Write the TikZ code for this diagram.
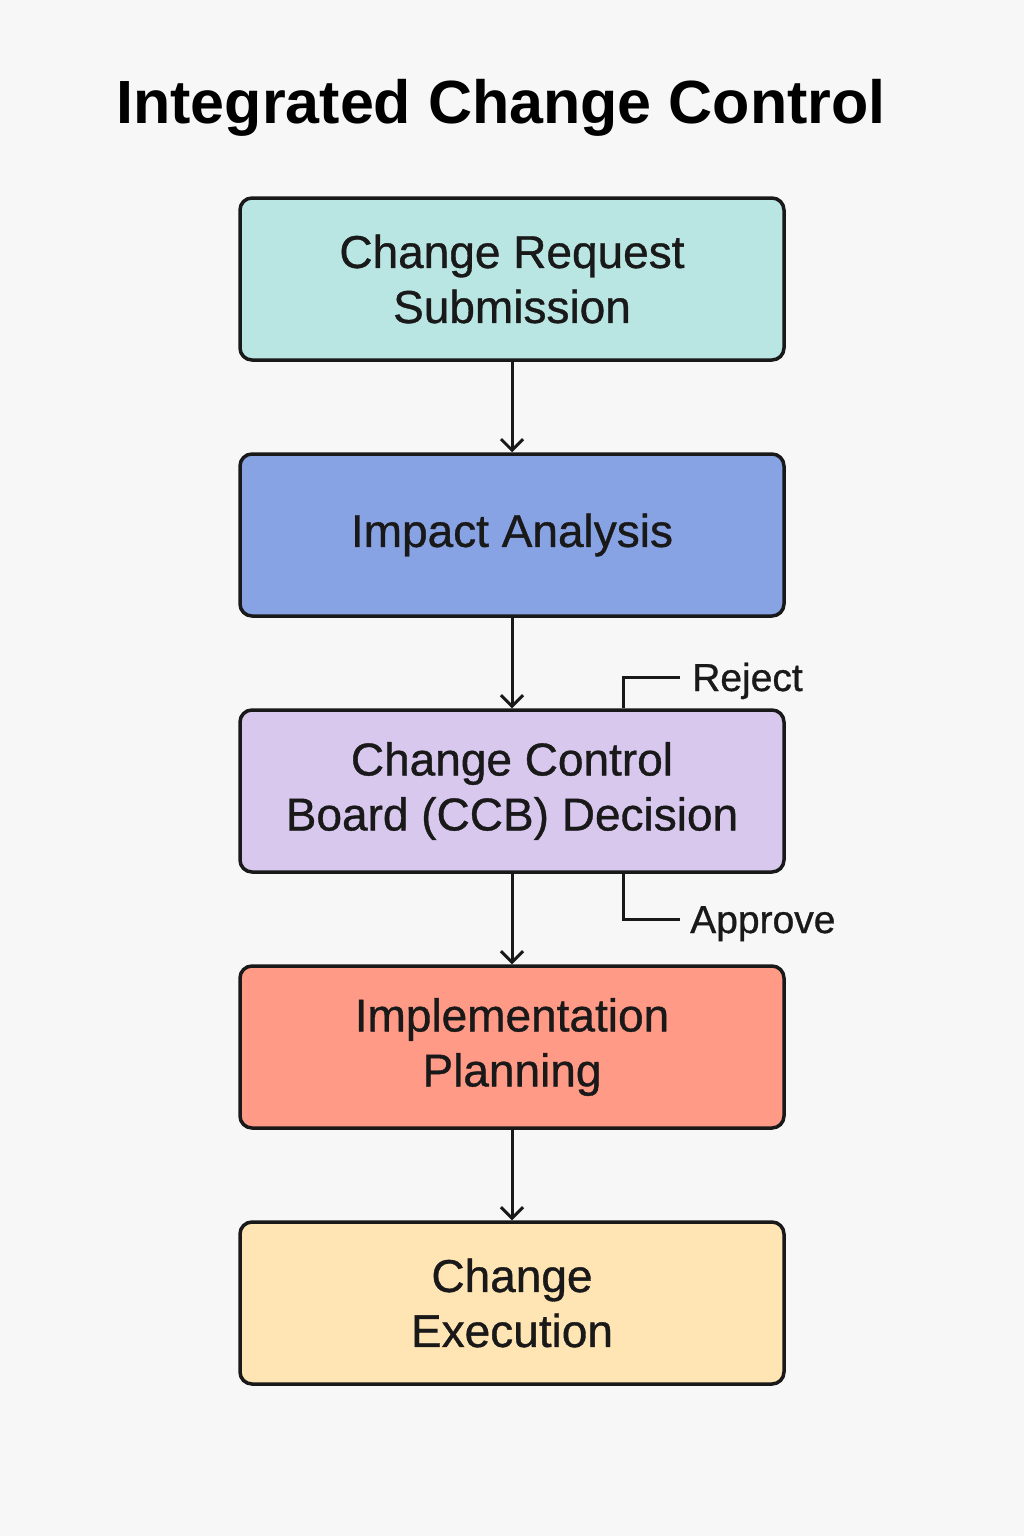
\documentclass[tikz,border=0pt]{standalone}
\usepackage{fontspec}
\setmainfont[FakeBold=0.8]{Liberation Sans}
\newfontfamily\titlefont{Liberation Sans}

\definecolor{bgcol}{HTML}{F7F7F7}
\definecolor{requestcol}{HTML}{B9E6E3}
\definecolor{impactcol}{HTML}{88A3E3}
\definecolor{ccbcol}{HTML}{D8C8EE}
\definecolor{plancol}{HTML}{FF9A86}
\definecolor{execcol}{HTML}{FFE4B4}

\usetikzlibrary{arrows.meta}
\tikzset{
  stage/.style={draw=black!90, line width=3.5pt, rounded corners=12pt,
    minimum width=544pt, minimum height=162pt, align=center,
    font=\fontsize{46}{55}\selectfont, text=black!90},
  flow/.style={line width=3pt, draw=black!90, -{Straight Barb[length=11pt,width=22pt,line width=3pt]}},
  branch/.style={line width=3pt, draw=black!90},
  outcome/.style={inner sep=0pt, text height=28pt, text depth=0pt, anchor=west,
    font=\fontsize{39}{42}\selectfont, text=black!90}
}

\begin{document}
\begin{tikzpicture}[x=1pt,y=-1pt]

% Page and background
\fill[bgcol] (0,0) rectangle (1024,1536);
\useasboundingbox (0,0) rectangle (1024,1536);

% Horizontal centre of the boxes and vertical spacing
\def\cx{512}
\def\gap{256}

% Title
\node[font=\titlefont\fontsize{61}{70}\selectfont\bfseries, anchor=base] (title) at (501,124) {Integrated Change Control};

% Stages of the process
\node[stage, fill=requestcol] (request) at (\cx,279) {Change Request\\Submission};
\node[stage, fill=impactcol] (impact) at (\cx,279+\gap) {Impact Analysis};
\node[stage, fill=ccbcol] (ccb) at (\cx,279+2*\gap) {Change Control\\Board (CCB) Decision};
\node[stage, fill=plancol] (plan) at (\cx,279+3*\gap) {Implementation\\Planning};
\node[stage, fill=execcol] (exec) at (\cx,279+4*\gap) {Change\\Execution};

% Arrows between the stages
\draw[flow] (request) -- (impact);
\draw[flow] (impact) -- (ccb);
\draw[flow] (ccb) -- (plan);
\draw[flow] (plan) -- (exec);

% Decision outcomes of the board
\node[outcome] (reject) at (692,677) {Reject};
\node[outcome] (approve) at (690,919) {Approve};
\draw[branch] ([xshift=111pt]ccb.north) |- ([xshift=-12pt]reject.west);
\draw[branch] ([xshift=111pt]ccb.south) |- ([xshift=-10pt]approve.west);

\end{tikzpicture}
\end{document}
